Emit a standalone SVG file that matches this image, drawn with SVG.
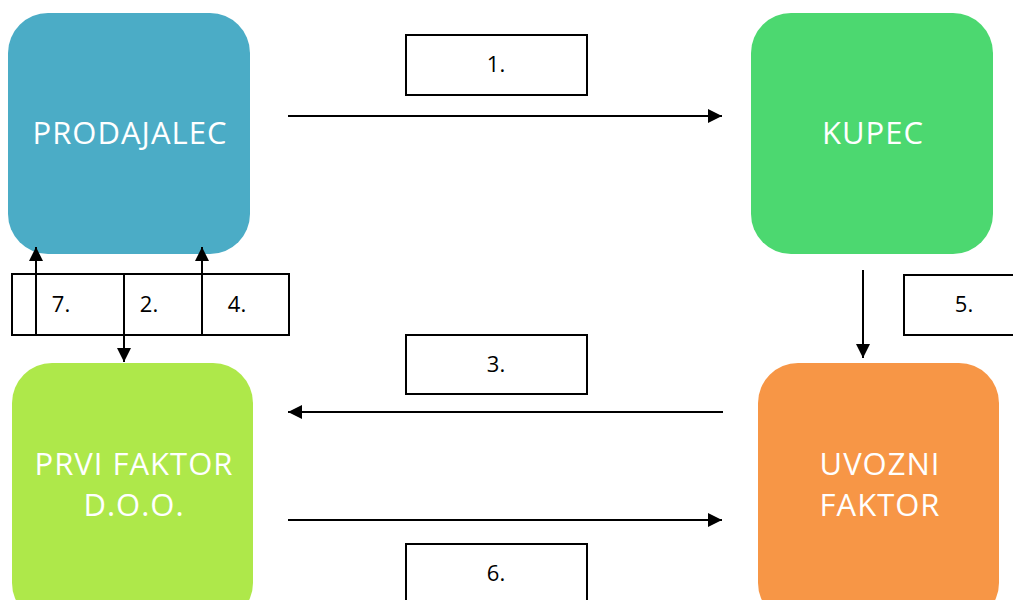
<svg xmlns="http://www.w3.org/2000/svg" width="1013" height="600" viewBox="0 0 1013 600">
<defs>
<marker id="ah" viewBox="0 0 10 10" refX="10" refY="5" markerWidth="14" markerHeight="14" markerUnits="userSpaceOnUse" orient="auto">
<path d="M0,0 L10,5 L0,10 z" fill="#000"/>
</marker>
<style>
.node text{font-family:"Open Sans","Liberation Sans",sans-serif;font-size:31px;letter-spacing:1px;fill:#fff;text-anchor:middle}
.lbl rect{fill:#fff;stroke:#000;stroke-width:2}
.lbl text{font-family:"Open Sans","Liberation Sans",sans-serif;font-size:22px;fill:#000;text-anchor:middle}
.conn line{stroke:#000;stroke-width:2;marker-end:url(#ah)}
</style>
</defs>
<rect width="1013" height="600" fill="#fff"/>
<g id="prodajalec" class="node">
<rect x="8" y="13" width="242" height="241" rx="40" fill="#4BACC6"/>
<text x="130" y="144">PRODAJALEC</text>
</g>
<g id="kupec" class="node">
<rect x="751" y="13" width="242" height="241" rx="40" fill="#4CD870"/>
<text x="873" y="144">KUPEC</text>
</g>
<g id="prvi-faktor" class="node">
<rect x="12" y="363" width="241" height="260" rx="40" fill="#AEE84A"/>
<text x="134" y="475">PRVI FAKTOR</text>
<text x="134" y="516">D.O.O.</text>
</g>
<g id="uvozni-faktor" class="node">
<rect x="758" y="363" width="241" height="260" rx="40" fill="#F79646"/>
<text x="880" y="475">UVOZNI</text>
<text x="880" y="516">FAKTOR</text>
</g>
<g id="label-1" class="lbl">
<rect x="406" y="35" width="181" height="60"/>
<text x="496" y="72">1.</text>
</g>
<g id="label-3" class="lbl">
<rect x="406" y="335" width="181" height="59"/>
<text x="496" y="372">3.</text>
</g>
<g id="label-6" class="lbl">
<rect x="406" y="544" width="181" height="70"/>
<text x="496" y="581">6.</text>
</g>
<g id="label-5" class="lbl">
<rect x="904" y="275" width="120" height="60"/>
<text x="964" y="312">5.</text>
</g>
<g id="label-742" class="lbl">
<rect x="12" y="274" width="277" height="61"/>
<line x1="124" y1="274" x2="124" y2="335" stroke="#000" stroke-width="2"/>
<text x="61" y="312">7.</text>
<text x="149" y="312">2.</text>
<text x="237" y="312">4.</text>
</g>
<g id="connectors" class="conn">
<line x1="288" y1="116" x2="722" y2="116"/>
<line x1="723" y1="412" x2="288" y2="412"/>
<line x1="288" y1="520" x2="722" y2="520"/>
<line x1="863" y1="270" x2="863" y2="358"/>
<line x1="36" y1="335" x2="36" y2="247"/>
<line x1="202" y1="335" x2="202" y2="247"/>
<line x1="124" y1="335" x2="124" y2="362"/>
</g>
</svg>
